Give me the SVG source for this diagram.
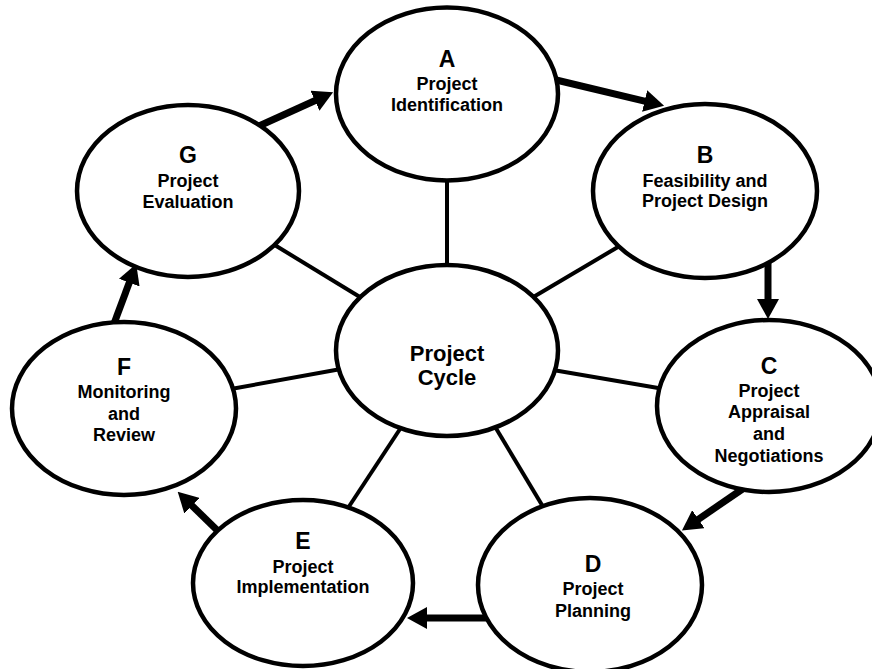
<svg xmlns="http://www.w3.org/2000/svg" width="872" height="669" viewBox="0 0 872 669">
<style>
.node{fill:#fff;stroke:#000;stroke-width:4.5}
.spoke{stroke:#000;stroke-width:4;fill:none}
.arrow{stroke:#000;stroke-width:7;fill:none;marker-end:url(#ah)}
text{font-family:"Liberation Sans",Arial,sans-serif;font-weight:bold;fill:#000;text-anchor:middle}
.lt{font-size:23px}
.lb{font-size:18px}
.ct{font-size:22px}
</style>
<defs>
<marker id="ah" viewBox="0 0 20 22" markerWidth="20" markerHeight="22" refX="1" refY="11" markerUnits="userSpaceOnUse" orient="auto">
<path d="M0,0 L20,11 L0,22 z" fill="#000"/>
</marker>
</defs>
<rect width="872" height="669" fill="#fff"/>
<g id="connectors">
<line class="spoke" x1="447" y1="175" x2="447" y2="270"/>
<line class="spoke" x1="530" y1="299" x2="623" y2="244"/>
<line class="spoke" x1="273" y1="244" x2="364" y2="299.5"/>
<line class="spoke" x1="231" y1="389" x2="341" y2="369"/>
<line class="spoke" x1="553" y1="370" x2="664" y2="389"/>
<line class="spoke" x1="402" y1="426" x2="348" y2="508"/>
<line class="spoke" x1="494" y1="425" x2="545" y2="510"/>
<line class="arrow" x1="552" y1="79" x2="645.6" y2="101.3"/>
<line class="arrow" x1="768" y1="262" x2="768" y2="300"/>
<line class="arrow" x1="744" y1="488" x2="697.6" y2="519.8"/>
<line class="arrow" x1="492" y1="618" x2="426" y2="618"/>
<line class="arrow" x1="220" y1="533" x2="191.3" y2="505"/>
<line class="arrow" x1="113.5" y1="325" x2="129.6" y2="281.7"/>
<line class="arrow" x1="259" y1="126" x2="315.8" y2="100.2"/>
</g>
<g id="nodeA">
<ellipse class="node" cx="447" cy="94" rx="111" ry="86.5"/>
<text class="lt" x="447" y="67">A</text>
<text class="lb" x="447" y="90">Project</text>
<text class="lb" x="447" y="111">Identification</text>
</g>
<g id="nodeB">
<ellipse class="node" cx="705" cy="191" rx="112" ry="87"/>
<text class="lt" x="705" y="163">B</text>
<text class="lb" x="705" y="187">Feasibility and</text>
<text class="lb" x="705" y="207">Project Design</text>
</g>
<g id="nodeC">
<ellipse class="node" cx="769" cy="406" rx="112" ry="86"/>
<text class="lt" x="769" y="374">C</text>
<text class="lb" x="769" y="397">Project</text>
<text class="lb" x="769" y="418">Appraisal</text>
<text class="lb" x="769" y="440">and</text>
<text class="lb" x="769" y="462">Negotiations</text>
</g>
<g id="nodeD">
<ellipse class="node" cx="590" cy="585" rx="112" ry="87"/>
<text class="lt" x="593" y="572">D</text>
<text class="lb" x="593" y="595">Project</text>
<text class="lb" x="593" y="617">Planning</text>
</g>
<g id="nodeE">
<ellipse class="node" cx="303" cy="583" rx="110" ry="83"/>
<text class="lt" x="303" y="549">E</text>
<text class="lb" x="303" y="573">Project</text>
<text class="lb" x="303" y="593">Implementation</text>
</g>
<g id="nodeF">
<ellipse class="node" cx="124" cy="408.5" rx="112" ry="86.5"/>
<text class="lt" x="124" y="375">F</text>
<text class="lb" x="124" y="398">Monitoring</text>
<text class="lb" x="124" y="420">and</text>
<text class="lb" x="124" y="441">Review</text>
</g>
<g id="nodeG">
<ellipse class="node" cx="188" cy="191" rx="111" ry="86"/>
<text class="lt" x="188" y="163">G</text>
<text class="lb" x="188" y="187">Project</text>
<text class="lb" x="188" y="208">Evaluation</text>
</g>
<g id="nodeCenter">
<ellipse class="node" cx="447" cy="350.5" rx="111" ry="85.5"/>
<text class="ct" x="447" y="361">Project</text>
<text class="ct" x="447" y="385">Cycle</text>
</g>
</svg>
